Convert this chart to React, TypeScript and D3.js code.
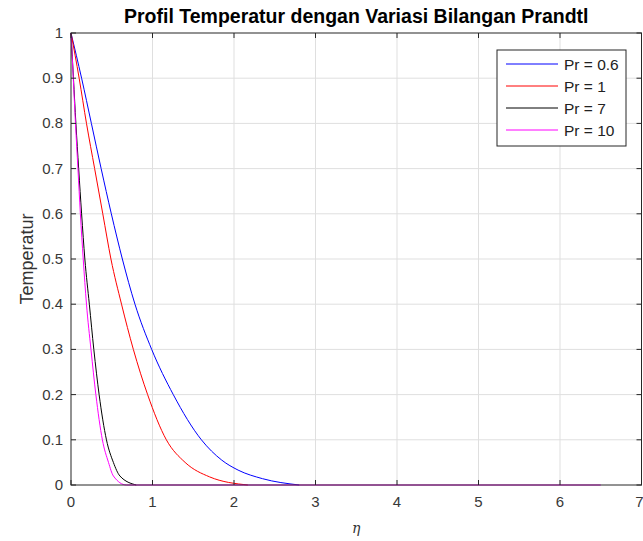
import React from "react";
import * as d3 from "d3";

// values
const seriesNames = ["Pr = 0.6", "Pr = 1", "Pr = 7", "Pr = 10"];
const seriesColors = ["#0000ff", "#ff0000", "#000000", "#ff00ff"];

const etaPr06 = [0, 0.13, 0.25, 0.37, 0.495, 0.63, 0.785, 0.99, 1.255, 1.6, 1.85, 2.05, 2.35, 2.8];
const thetaPr06 = [1, 0.9, 0.8, 0.7, 0.6, 0.5, 0.4, 0.3, 0.2, 0.1, 0.055, 0.033, 0.014, 0];

const etaPr1 = [0, 0.1, 0.19, 0.29, 0.39, 0.49, 0.62, 0.765, 0.94, 1.17, 1.4, 1.7, 2.17];
const thetaPr1 = [1, 0.9, 0.8, 0.7, 0.6, 0.5, 0.4, 0.3, 0.2, 0.1, 0.05, 0.018, 0];

const etaPr7 = [0, 0.03, 0.06, 0.094, 0.13, 0.17, 0.225, 0.28, 0.345, 0.435, 0.52, 0.6, 0.8];
const thetaPr7 = [1, 0.9, 0.8, 0.7, 0.6, 0.5, 0.4, 0.3, 0.2, 0.1, 0.05, 0.02, 0];

const etaPr10 = [0, 0.028, 0.055, 0.085, 0.115, 0.15, 0.19, 0.245, 0.305, 0.385, 0.46, 0.52, 0.68, 6.5];
const thetaPr10 = [1, 0.9, 0.8, 0.7, 0.6, 0.5, 0.4, 0.3, 0.2, 0.1, 0.05, 0.02, 0, 0];

const xTicks = [0, 1, 2, 3, 4, 5, 6, 7];
const yTicks = [0, 0.1, 0.2, 0.3, 0.4, 0.5, 0.6, 0.7, 0.8, 0.9, 1];

const titleText = "Profil Temperatur dengan Variasi Bilangan Prandtl";
const xLabel = "η";
const yLabel = "Temperatur";

const W = 643;
const H = 541;
const margin = { top: 33, right: 1.5, bottom: 56, left: 71 };
const font = "Arial, 'Liberation Sans', Helvetica, sans-serif";
const axisColor = "#262626";

export default function App() {
  const x = d3.scaleLinear().domain([0, 7]).range([margin.left, W - margin.right]);
  const y = d3.scaleLinear().domain([0, 1]).range([H - margin.bottom, margin.top]);

  const series = [
    { eta: etaPr06, theta: thetaPr06 },
    { eta: etaPr1, theta: thetaPr1 },
    { eta: etaPr7, theta: thetaPr7 },
    { eta: etaPr10, theta: thetaPr10 },
  ];

  const line = d3
    .line<[number, number]>()
    .x(d => x(d[0]))
    .y(d => y(d[1]))
    .curve(d3.curveMonotoneX);

  const x0 = x(0), x1 = x(7), yb = y(0), yt = y(1);
  const tick = 5;

  // legend box
  const lg = { x: 497, y: 50, w: 129, h: 96, row: 22 };

  return (
    <svg width={W} height={H} style={{ position: "absolute", left: 0, top: 0, background: "#fff" }}>
      <rect x={0} y={0} width={W} height={H} fill="#fff" />
      {/* grid */}
      <g stroke="#dfdfdf" strokeWidth={1}>
        {xTicks.slice(1, -1).map(t => (
          <line key={"gx" + t} x1={x(t)} x2={x(t)} y1={yt} y2={yb} />
        ))}
        {yTicks.slice(1, -1).map(t => (
          <line key={"gy" + t} x1={x0} x2={x1} y1={y(t)} y2={y(t)} />
        ))}
      </g>

      {/* curves */}
      <g fill="none" strokeWidth={1}>
        {series.map((s, i) => (
          <path
            key={i}
            d={line(s.eta.map((e, k) => [e, s.theta[k]] as [number, number])) || ""}
            stroke={seriesColors[i]}
          />
        ))}
      </g>

      {/* axes box and ticks */}
      <g stroke={axisColor} strokeWidth={1} fill="none">
        <rect x={x0} y={yt} width={x1 - x0} height={yb - yt} />
        {xTicks.map(t => (
          <g key={"tx" + t}>
            <line x1={x(t)} x2={x(t)} y1={yb} y2={yb - tick} />
            <line x1={x(t)} x2={x(t)} y1={yt} y2={yt + tick} />
          </g>
        ))}
        {yTicks.map(t => (
          <g key={"ty" + t}>
            <line x1={x0} x2={x0 + tick} y1={y(t)} y2={y(t)} />
            <line x1={x1} x2={x1 - tick} y1={y(t)} y2={y(t)} />
          </g>
        ))}
      </g>

      {/* tick labels */}
      <g fontFamily={font} fontSize={15} fill="#383838">
        {xTicks.map(t => (
          <text key={"lx" + t} x={t === 7 ? x(t) - 2 : x(t)} y={yb + 22} textAnchor="middle">
            {t}
          </text>
        ))}
        {yTicks.map(t => (
          <text key={"ly" + t} x={x0 - 8} y={y(t) + 5} textAnchor="end">
            {t}
          </text>
        ))}
      </g>

      {/* labels */}
      <text x={(x0 + x1) / 2} y={23} textAnchor="middle" fontFamily={font} fontWeight="bold" fontSize={19.5} fill="#000">
        {titleText}
      </text>
      <text x={(x0 + x1) / 2} y={533} textAnchor="middle" fontFamily="'DejaVu Serif', serif" fontStyle="italic" fontSize={14} fill="#333">
        {xLabel}
      </text>
      <text
        transform={`translate(33,${(yt + yb) / 2}) rotate(-90)`}
        textAnchor="middle"
        fontFamily={font}
        fontSize={18}
        fill="#333"
      >
        {yLabel}
      </text>

      {/* legend */}
      <rect x={lg.x} y={lg.y} width={lg.w} height={lg.h} fill="#fff" stroke={axisColor} strokeWidth={1} />
      {seriesNames.map((n, i) => (
        <g key={n}>
          <line
            x1={lg.x + 9}
            x2={lg.x + 61}
            y1={lg.y + 14 + i * lg.row}
            y2={lg.y + 14 + i * lg.row}
            stroke={seriesColors[i]}
            strokeWidth={1}
          />
          <text x={lg.x + 67} y={lg.y + 19.5 + i * lg.row} fontFamily={font} fontSize={15.5} fill="#222">
            {n}
          </text>
        </g>
      ))}
    </svg>
  );
}
